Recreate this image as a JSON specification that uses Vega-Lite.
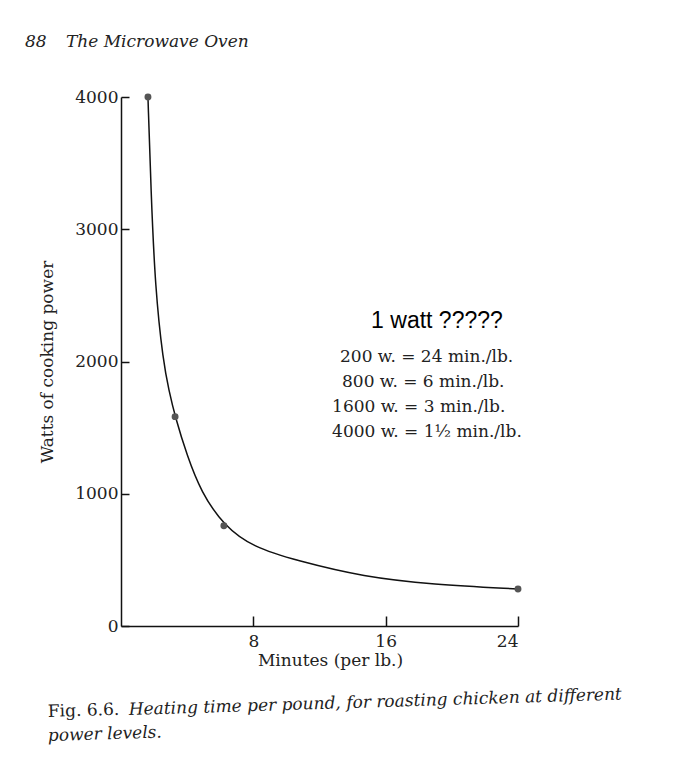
{
  "$schema": "https://vega.github.io/schema/vega-lite/v6.json",
  "width": 397,
  "height": 529,
  "autosize": "none",
  "padding": {"left": 121, "top": 97, "right": 182, "bottom": 134},
  "background": "white",
  "datasets": {
    "points": [
      {"minutes": 1.63, "watts": 4000},
      {"minutes": 3.27, "watts": 1583},
      {"minutes": 6.22, "watts": 758},
      {"minutes": 24, "watts": 280}
    ],
    "curve": [
      {"minutes": 1.63, "watts": 4000},
      {"minutes": 1.81, "watts": 3300},
      {"minutes": 2.07, "watts": 2545},
      {"minutes": 2.55, "watts": 2000},
      {"minutes": 2.9, "watts": 1780},
      {"minutes": 3.27, "watts": 1583},
      {"minutes": 3.99, "watts": 1290},
      {"minutes": 4.84, "watts": 1013},
      {"minutes": 6.22, "watts": 758},
      {"minutes": 8, "watts": 595},
      {"minutes": 10.6, "watts": 495},
      {"minutes": 14.7, "watts": 370},
      {"minutes": 18.8, "watts": 315},
      {"minutes": 24, "watts": 280}
    ],
    "notes": [
      {"kind": "header", "minutes": -5.8, "watts": 4380, "label": "88"},
      {"kind": "header", "minutes": -3.33, "watts": 4380, "label": "The Microwave Oven"},
      {"kind": "watt", "minutes": 19.1, "watts": 2253, "label": "1 watt ?????"},
      {"kind": "rate", "minutes": 13.24, "watts": 1996, "label": "200 w. = 24 min./lb."},
      {"kind": "rate", "minutes": 13.36, "watts": 1807, "label": "800 w. = 6 min./lb."},
      {"kind": "rate", "minutes": 12.76, "watts": 1618, "label": "1600 w. = 3 min./lb."},
      {"kind": "rate", "minutes": 12.76, "watts": 1429, "label": "4000 w. = 1½ min./lb."},
      {"kind": "fig", "minutes": -4.41, "watts": -688, "label": "Fig. 6.6."},
      {"kind": "caption", "minutes": 0.48, "watts": -673, "label": "Heating time per pound, for roasting chicken at different"},
      {"kind": "caption", "minutes": -4.41, "watts": -870, "label": "power levels."}
    ]
  },
  "encoding": {
    "x": {
      "field": "minutes",
      "type": "quantitative",
      "scale": {"domain": [0, 24], "nice": false, "zero": false},
      "axis": {
        "title": "Minutes (per lb.)",
        "values": [8, 16, 24],
        "format": "d",
        "grid": false,
        "tickSize": -10,
        "labelPadding": 17,
        "titlePadding": 3,
        "titleX": 209
      }
    },
    "y": {
      "field": "watts",
      "type": "quantitative",
      "scale": {"domain": [0, 4000], "nice": false},
      "axis": {
        "title": "Watts of cooking power",
        "values": [0, 1000, 2000, 3000, 4000],
        "format": "d",
        "grid": false,
        "tickSize": -8,
        "labelPadding": 11,
        "titlePadding": 18
      }
    }
  },
  "layer": [
    {
      "data": {"name": "curve"},
      "mark": {"type": "line", "interpolate": "basis", "color": "#111", "strokeWidth": 1.5}
    },
    {
      "data": {"name": "points"},
      "mark": {"type": "circle", "size": 48, "color": "#555", "opacity": 1}
    },
    {
      "data": {"name": "notes"},
      "transform": [{"filter": "datum.kind == 'header'"}],
      "mark": {"type": "text", "align": "left", "baseline": "alphabetic", "font": "DejaVu Serif", "fontStyle": "italic", "fontSize": 17, "color": "#222"},
      "encoding": {"text": {"field": "label"}}
    },
    {
      "data": {"name": "notes"},
      "transform": [{"filter": "datum.kind == 'watt'"}],
      "mark": {"type": "text", "align": "center", "baseline": "alphabetic", "font": "Liberation Sans", "fontSize": 23, "color": "#000"},
      "encoding": {"text": {"field": "label"}}
    },
    {
      "data": {"name": "notes"},
      "transform": [{"filter": "datum.kind == 'rate'"}],
      "mark": {"type": "text", "align": "left", "baseline": "alphabetic", "font": "DejaVu Serif", "fontSize": 17, "color": "#222"},
      "encoding": {"text": {"field": "label"}}
    },
    {
      "data": {"name": "notes"},
      "transform": [{"filter": "datum.kind == 'fig'"}],
      "mark": {"type": "text", "align": "left", "baseline": "alphabetic", "font": "DejaVu Serif", "fontSize": 17, "angle": -1.8, "color": "#222"},
      "encoding": {"text": {"field": "label"}}
    },
    {
      "data": {"name": "notes"},
      "transform": [{"filter": "datum.kind == 'caption'"}],
      "mark": {"type": "text", "align": "left", "baseline": "alphabetic", "font": "DejaVu Serif", "fontStyle": "italic", "fontSize": 17, "angle": -1.8, "color": "#222"},
      "encoding": {"text": {"field": "label"}}
    }
  ],
  "config": {
    "view": {"stroke": null},
    "axis": {
      "domainColor": "#111",
      "domainWidth": 1.5,
      "tickColor": "#111",
      "tickWidth": 1.5,
      "labelFont": "DejaVu Serif",
      "labelFontSize": 17,
      "labelColor": "#222",
      "titleFont": "DejaVu Serif",
      "titleFontSize": 17,
      "titleFontWeight": "normal",
      "titleColor": "#222"
    }
  }
}
